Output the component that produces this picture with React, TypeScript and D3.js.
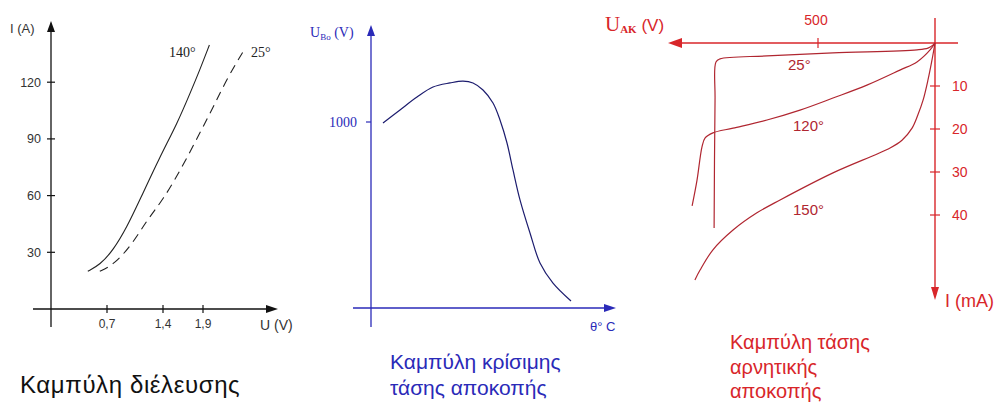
import React from "react";
import * as d3 from "d3";

// ---- Forward conduction curve (I in A vs U in V) ----
const fwdTicksX = [0.7, 1.4, 1.9];
const fwdTickLabelsX = ["0,7", "1,4", "1,9"];
const fwdTicksY = [30, 60, 90, 120];
const fwdU140 = [0.46, 0.61, 0.78, 0.95, 1.11, 1.36, 1.58, 1.74, 1.86, 1.98];
const fwdI140 = [20, 23.3, 31.2, 43.4, 57.7, 80.4, 98.4, 114.3, 126.5, 139.7];
const fwdU25 = [0.61, 0.78, 1.01, 1.2, 1.4, 1.64, 1.86, 2.03, 2.21, 2.43];
const fwdI25 = [20, 23.3, 33.9, 47.1, 57.7, 75.1, 93.1, 106.9, 122.8, 138.1];

// ---- Critical breakover voltage vs temperature ----
const boTicksY = [1000];
const boTheta = [12, 29, 46, 62, 79, 92, 102, 112, 122, 129, 136, 142, 149, 159, 169, 182, 200];
const boU = [995, 1065, 1134, 1188, 1210, 1220, 1210, 1172, 1102, 1011, 887, 742, 581, 403, 242, 134, 38];

// ---- Reverse blocking curves (I in mA vs U_AK in V) ----
const revTicksX = [500];
const revTicksY = [10, 20, 30, 40];
const rev25V = [0, 9, 30, 77, 436, 718, 919, 936, 940, 944];
const rev25I = [0, 0.5, 1.2, 1.6, 2.3, 3.0, 3.7, 4.4, 13.3, 43];
const rev120V = [0, 21, 77, 150, 291, 436, 577, 718, 863, 949, 983, 996, 1017, 1038];
const rev120I = [0, 1.6, 4.4, 6.3, 9.8, 12.8, 15.6, 17.9, 19.8, 20.9, 22.1, 24.2, 31.9, 37.9];
const rev150V = [0, 13, 30, 51, 73, 98, 141, 192, 436, 662, 761, 863, 949, 1004, 1026];
const rev150I = [0, 4.0, 8.6, 13.3, 16.7, 19.8, 22.6, 24.4, 30.2, 36.5, 39.5, 43.5, 48.1, 52.8, 55.1];

const zip = (a: number[], b: number[]) => a.map((v, i) => [v, b[i]] as [number, number]);

export default function App() {
  // Forward panel scales
  const fx = d3.scaleLinear().domain([0, 3]).range([51, 291]);
  const fy = d3.scaleLinear().domain([0, 150]).range([309, 25.5]);
  const fLine = d3
    .line<[number, number]>()
    .x((d) => fx(d[0]))
    .y((d) => fy(d[1]))
    .curve(d3.curveBasis);

  // Breakover panel scales
  const bx = d3.scaleLinear().domain([0, 240]).range([371, 611]);
  const by = d3.scaleLinear().domain([0, 1000]).range([308, 122]);
  const bLine = d3
    .line<[number, number]>()
    .x((d) => bx(d[0]))
    .y((d) => by(d[1]))
    .curve(d3.curveCatmullRom.alpha(0.5));

  // Reverse panel scales (voltage grows to the left, current grows downward)
  const rx = d3.scaleLinear().domain([0, 1150]).range([935, 935 - 1150 * 0.234]);
  const ry = d3.scaleLinear().domain([0, 60]).range([43, 43 + 60 * 4.3]);
  const rLine = d3
    .line<[number, number]>()
    .x((d) => rx(d[0]))
    .y((d) => ry(d[1]))
    .curve(d3.curveCatmullRom.alpha(0.5));

  const black = "#111";
  const blue = "#2a2ab8";
  const navy = "#1c1c6e";
  const red = "#d8262a";
  const darkRed = "#b02630";
  const sans = "Arial, 'Liberation Sans', sans-serif";
  const serif = "'Times New Roman', 'Liberation Serif', serif";

  return (
    <svg
      width={1000}
      height={404}
      style={{ position: "absolute", left: 0, top: 0, background: "#fff" }}
    >
      {/* ===== Forward conduction ===== */}
      <g>
        <line x1={fx(0)} y1={327} x2={fx(0)} y2={30} stroke={black} strokeWidth={1.3} />
        <path d={`M${fx(0)},21 L${fx(0) - 4},32 L${fx(0) + 4},32 Z`} fill={black} />
        <line x1={33} y1={fy(0)} x2={268} y2={fy(0)} stroke={black} strokeWidth={1.3} />
        <path d={`M278,${fy(0)} L266,${fy(0) - 4} L266,${fy(0) + 4} Z`} fill={black} />
        {fwdTicksY.map((t) => (
          <g key={t}>
            <line x1={fx(0) - 4} x2={fx(0) + 4} y1={fy(t)} y2={fy(t)} stroke={black} strokeWidth={1.2} />
            <text x={41} y={fy(t) + 4.5} textAnchor="end" fontFamily={sans} fontSize={12.5} fill="#333">
              {t}
            </text>
          </g>
        ))}
        {fwdTicksX.map((t, i) => (
          <g key={t}>
            <line x1={fx(t)} x2={fx(t)} y1={fy(0) - 4} y2={fy(0) + 4} stroke={black} strokeWidth={1.2} />
            <text x={fx(t)} y={328} textAnchor="middle" fontFamily={sans} fontSize={12} fill="#333">
              {fwdTickLabelsX[i]}
            </text>
          </g>
        ))}
        <text x={10} y={33} fontFamily={sans} fontSize={13} fill="#333">I (A)</text>
        <text x={260} y={330} fontFamily={sans} fontSize={14} fill="#333">U (V)</text>
        <path d={fLine(zip(fwdU140, fwdI140)) || ""} fill="none" stroke="#222" strokeWidth={1.1} />
        <path
          d={fLine(zip(fwdU25, fwdI25)) || ""}
          fill="none"
          stroke="#222"
          strokeWidth={1.1}
          strokeDasharray="9,6"
        />
        <text x={169} y={57} fontFamily={serif} fontSize={14} fill="#222">140°</text>
        <text x={251} y={57} fontFamily={serif} fontSize={14} fill="#222">25°</text>
        <text x={20} y={393} fontFamily={sans} fontSize={24} letterSpacing={0.6} fill="#111">
          Καμπύλη διέλευσης
        </text>
      </g>

      {/* ===== Critical breakover voltage ===== */}
      <g>
        <line x1={bx(0)} y1={327} x2={bx(0)} y2={34} stroke={blue} strokeWidth={1.3} />
        <path d={`M${bx(0)},25 L${bx(0) - 4},36 L${bx(0) + 4},36 Z`} fill={blue} />
        <line x1={353} y1={by(0)} x2={606} y2={by(0)} stroke={blue} strokeWidth={1.3} />
        <path d={`M616,${by(0)} L604,${by(0) - 4} L604,${by(0) + 4} Z`} fill={blue} />
        {boTicksY.map((t) => (
          <g key={t}>
            <line x1={bx(0) - 5} x2={bx(0)} y1={by(t)} y2={by(t)} stroke={blue} strokeWidth={1.2} />
            <text x={357} y={by(t) + 5} textAnchor="end" fontFamily={serif} fontSize={14} fill={blue}>
              {t}
            </text>
          </g>
        ))}
        <text x={310} y={37} fontFamily={serif} fontSize={14} fill={blue}>
          U<tspan fontSize={9} dy={3}>Bo</tspan>
          <tspan dy={-3}> (V)</tspan>
        </text>
        <text x={590} y={331} fontFamily={sans} fontSize={13} fill={blue}>θ° C</text>
        <path d={bLine(zip(boTheta, boU)) || ""} fill="none" stroke={navy} strokeWidth={1.2} />
        <text x={390} y={369} fontFamily={sans} fontSize={21} fill={blue}>Καμπύλη κρίσιμης</text>
        <text x={390} y={395} fontFamily={sans} fontSize={21} fill={blue}>τάσης αποκοπής</text>
      </g>

      {/* ===== Reverse blocking ===== */}
      <g>
        <line x1={958} y1={ry(0)} x2={680} y2={ry(0)} stroke={red} strokeWidth={1.4} />
        <path d={`M668,${ry(0)} L682,${ry(0) - 5} L682,${ry(0) + 5} Z`} fill={red} />
        <line x1={rx(0)} y1={18} x2={rx(0)} y2={288} stroke={red} strokeWidth={1.4} />
        <path d={`M${rx(0)},300 L${rx(0) - 4},287 L${rx(0) + 4},287 Z`} fill={red} />
        {revTicksX.map((t) => (
          <g key={t}>
            <line x1={rx(t)} x2={rx(t)} y1={ry(0) - 5} y2={ry(0) + 5} stroke={red} strokeWidth={1.2} />
            <text x={rx(t) - 2} y={25} textAnchor="middle" fontFamily={sans} fontSize={14} fill={red}>
              {t}
            </text>
          </g>
        ))}
        {revTicksY.map((t) => (
          <g key={t}>
            <line x1={rx(0) - 5} x2={rx(0) + 5} y1={ry(t)} y2={ry(t)} stroke={red} strokeWidth={1.2} />
            <text x={952} y={ry(t) + 5} fontFamily={sans} fontSize={14} fill={red}>
              {t}
            </text>
          </g>
        ))}
        <text x={605} y={31} fontFamily={serif} fontSize={21} fill={red}>
          U<tspan fontSize={11} fontWeight="bold" dy={2}>AK</tspan>
          <tspan fontFamily={sans} fontSize={17} dy={-2}> (V)</tspan>
        </text>
        <text x={945} y={307} fontFamily={sans} fontSize={18} fill={red}>I (mA)</text>
        <path d={rLine(zip(rev25V, rev25I)) || ""} fill="none" stroke={darkRed} strokeWidth={1.2} />
        <path d={rLine(zip(rev120V, rev120I)) || ""} fill="none" stroke={darkRed} strokeWidth={1.2} />
        <path d={rLine(zip(rev150V, rev150I)) || ""} fill="none" stroke={darkRed} strokeWidth={1.2} />
        <text x={788} y={70} fontFamily={sans} fontSize={15} fill={darkRed}>25°</text>
        <text x={793} y={131} fontFamily={sans} fontSize={15} fill={darkRed}>120°</text>
        <text x={793} y={215} fontFamily={sans} fontSize={15} fill={darkRed}>150°</text>
        <text x={730} y={349} fontFamily={sans} fontSize={20} fill={red}>Καμπύλη τάσης</text>
        <text x={730} y={374} fontFamily={sans} fontSize={20} fill={red}>αρνητικής</text>
        <text x={730} y={398} fontFamily={sans} fontSize={20} fill={red}>αποκοπής</text>
      </g>
    </svg>
  );
}
